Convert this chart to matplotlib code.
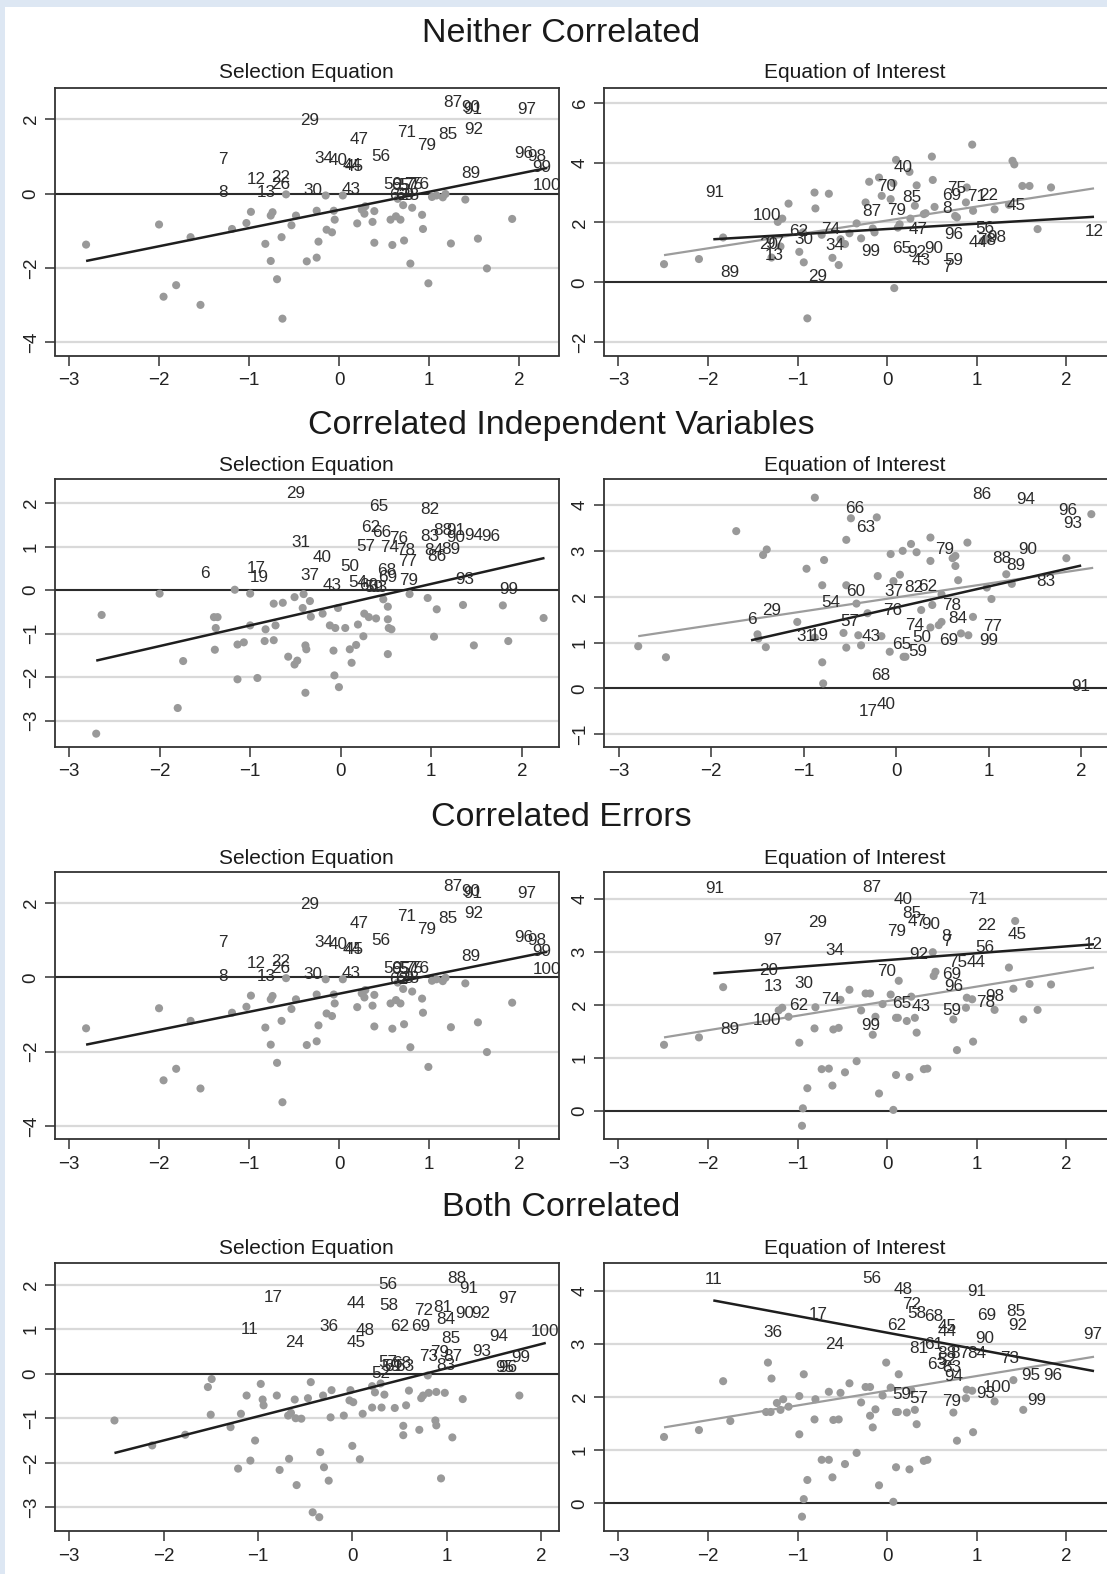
import matplotlib
matplotlib.use('Agg')
import matplotlib.pyplot as plt
from matplotlib.patches import Rectangle
import numpy as np

plt.rcParams['font.family'] = ['Liberation Sans', 'DejaVu Sans']

# ---------------- data ----------------
row_titles = ["Neither Correlated", "Correlated Independent Variables",
              "Correlated Errors", "Both Correlated"]
sub_titles = ["Selection Equation", "Equation of Interest"]
x_ticks = [-3, -2, -1, 0, 1, 2]

# Selection equation, uncorrelated X (rows 1 and 3)
selA_dots = [(-2.81,-1.37),(-2.0,-0.83),(-1.95,-2.77),(-1.81,-2.46),(-1.65,-1.17),(-1.54,-2.99),
             (-1.19,-0.95),(-1.03,-0.79),(-0.98,-0.49),(-0.82,-1.35),(-0.76,-1.81),(-0.76,-0.59),
             (-0.74,-0.5),(-0.69,-2.30),(-0.64,-1.17),(-0.63,-3.36),(-0.59,-0.02),(-0.53,-0.85),
             (-0.48,-0.59),(-0.36,-1.82),(-0.25,-1.72),(-0.25,-0.46),(-0.23,-1.29),(-0.15,-0.05),
             (-0.14,-0.97),(-0.08,-1.04),(-0.06,-0.46),(-0.05,-0.70),(0.04,-0.05),(0.2,-0.80),
             (0.25,-0.43),(0.28,-0.54),(0.29,-0.34),(0.37,-0.76),(0.39,-0.47),(0.39,-1.32),
             (0.57,-0.70),(0.59,-1.38),(0.63,-0.61),(0.65,-0.14),(0.68,-0.70),(0.71,-0.31),
             (0.72,-1.26),(0.79,-1.88),(0.81,-0.38),(0.92,-0.57),(0.93,-0.95),(0.99,-2.41),
             (1.03,-0.09),(1.08,-0.05),(1.15,-0.10),(1.18,-0.01),(1.24,-1.34),(1.40,-0.16),
             (1.54,-1.21),(1.64,-2.01),(1.92,-0.68)]
selA_labels = [("87",1.15,2.45),("90",1.35,2.31),("91",1.38,2.25),("97",1.98,2.25),("29",-0.43,1.96),
               ("71",0.64,1.64),("92",1.39,1.71),("85",1.10,1.58),("47",0.12,1.45),("79",0.87,1.29),
               ("56",0.36,1.0),("7",-1.34,0.93),("34",-0.27,0.94),("40",-0.12,0.89),("44",0.04,0.76),
               ("45",0.06,0.74),("96",1.94,1.07),("98",2.09,1.0),("99",2.14,0.69),("100",2.15,0.21),
               ("89",1.35,0.55),("12",-1.03,0.375),("22",-0.76,0.42),("26",-0.76,0.24),("8",-1.34,0.02),
               ("13",-0.92,0.02),("30",-0.40,0.08),("43",0.03,0.11),("59",0.49,0.24),("65",0.58,0.22),
               ("57",0.66,0.23),("75",0.72,0.24),("76",0.79,0.24),("62",0.55,-0.05),("69",0.62,-0.04),
               ("28",0.68,-0.04)]
selA_fit_x = [-2.81, 2.31]
selA_fit_y = [-1.81, 0.69]

# Row 1, equation of interest
intB_dots = [(-2.49,0.61),(-2.10,0.78),(-1.83,1.5),(-1.29,0.83),(-1.22,2.02),(-1.19,1.2),(-1.17,2.13),
             (-1.10,2.63),(-0.98,1.02),(-0.94,1.67),(-0.93,0.67),(-0.89,-1.2),(-0.81,3.0),(-0.80,2.47),
             (-0.73,1.59),(-0.65,2.96),(-0.61,0.82),(-0.54,0.58),(-0.52,1.44),(-0.47,1.28),(-0.42,1.64),
             (-0.34,1.97),(-0.29,1.47),(-0.24,2.67),(-0.20,3.36),(-0.16,1.8),(-0.14,1.67),(-0.09,3.5),
             (-0.06,2.89),(0.04,2.78),(0.07,3.31),(0.08,-0.19),(0.10,4.09),(0.12,1.83),(0.14,1.94),
             (0.25,3.69),(0.26,2.13),(0.31,2.56),(0.33,3.24),(0.41,2.28),(0.43,2.31),(0.50,4.2),
             (0.51,3.42),(0.53,2.52),(0.76,2.22),(0.78,2.17),(0.88,2.67),(0.89,3.17),(0.95,4.6),
             (0.96,2.39),(1.07,1.39),(1.13,1.45),(1.20,2.44),(1.36,2.59),(1.40,4.06),(1.42,3.94),
             (1.51,3.22),(1.59,3.22),(1.68,1.78),(1.83,3.17)]
intB_labels = [("91",-2.03,3.0),("100",-1.5,2.22),("89",-1.86,0.33),("20",-1.43,1.25),("97",-1.36,1.3),
               ("13",-1.36,0.89),("62",-1.09,1.69),("30",-1.03,1.44),("74",-0.74,1.76),("34",-0.69,1.22),
               ("29",-0.88,0.2),("99",-0.29,1.02),("87",-0.28,2.37),("70",-0.11,3.19),("40",0.07,3.83),
               ("79",0.0,2.41),("85",0.17,2.83),("47",0.24,1.78),("65",0.06,1.13),("92",0.23,1.0),
               ("43",0.27,0.72),("90",0.41,1.13),("7",0.61,0.5),("59",0.64,0.74),("8",0.62,2.48),
               ("69",0.61,2.89),("75",0.67,3.13),("71",0.89,2.87),("22",1.03,2.89),("45",1.34,2.56),
               ("96",0.64,1.59),("56",0.99,1.8),("44",0.91,1.33),("78",1.0,1.4),("98",1.12,1.49),
               ("12",2.21,1.69)]
intB_fit_x = [-1.94, 2.31]
intB_fit_y = [1.44, 2.19]
intB_all_x = [-2.49, 2.31]
intB_all_y = [0.91, 3.14]

# Row 2, selection equation
selC_dots = [(-2.70,-3.30),(-2.64,-0.57),(-2.0,-0.08),(-1.80,-2.71),(-1.74,-1.63),(-1.40,-0.62),
             (-1.36,-0.62),(-1.38,-0.87),(-1.39,-1.37),(-1.17,0.01),(-1.14,-1.25),(-1.14,-2.05),
             (-1.07,-1.2),(-1.0,-0.08),(-1.0,-0.81),(-0.92,-2.02),(-0.83,-0.90),(-0.84,-1.17),
             (-0.74,-0.31),(-0.74,-1.15),(-0.72,-0.81),(-0.64,-0.29),(-0.58,-1.53),(-0.51,-0.16),
             (-0.51,-1.71),(-0.48,-1.62),(-0.41,-0.09),(-0.42,-0.41),(-0.39,-1.27),(-0.38,-1.36),
             (-0.39,-2.36),(-0.34,-0.25),(-0.33,-0.61),(-0.20,-0.54),(-0.12,-0.81),(-0.06,-0.87),
             (-0.08,-1.39),(-0.07,-1.96),(-0.03,-0.41),(-0.02,-2.23),(0.05,-0.87),(0.10,-1.36),
             (0.12,-1.67),(0.17,-1.26),(0.19,-0.79),(0.25,-1.06),(0.26,-0.54),(0.31,-0.62),
             (0.39,-0.65),(0.47,-0.21),(0.52,-0.38),(0.52,-0.67),(0.53,-0.87),(0.56,-0.90),
             (0.52,-1.47),(0.76,-0.09),(0.96,-0.18),(1.06,-0.44),(1.03,-1.07),(1.35,-0.34),
             (1.47,-1.27),(1.79,-0.35),(1.85,-1.17),(2.24,-0.64)]
selC_labels = [("29",-0.60,2.22),("65",0.31,1.92),("82",0.88,1.85),("62",0.22,1.43),("66",0.35,1.32),
               ("76",0.53,1.18),("88",1.02,1.37),("91",1.17,1.37),("83",0.88,1.23),("90",1.16,1.21),
               ("94",1.36,1.26),("96",1.55,1.23),("31",-0.55,1.09),("57",0.17,1.01),("74",0.44,0.97),
               ("78",0.61,0.91),("84",0.92,0.91),("86",0.96,0.77),("89",1.11,0.93),("77",0.63,0.67),
               ("40",-0.31,0.74),("50",-0.01,0.55),("6",-1.55,0.38),("17",-1.04,0.49),("19",-1.00,0.28),
               ("37",-0.45,0.34),("43",-0.20,0.11),("54",0.08,0.18),("60",0.2,0.1),("59",0.26,0.06),
               ("63",0.3,0.06),("68",0.40,0.46),("69",0.41,0.28),("79",0.65,0.22),("93",1.26,0.25),
               ("99",1.75,0.02)]
selC_fit_x = [-2.70, 2.25]
selC_fit_y = [-1.62, 0.74]

# Row 2, equation of interest
intD_dots = [(-2.79,0.92),(-2.49,0.68),(-1.73,3.43),(-1.50,1.18),(-1.49,1.09),(-1.44,2.91),(-1.40,3.03),
             (-1.41,0.90),(-1.07,1.45),(-0.97,2.61),(-0.88,4.16),(-0.88,1.11),(-0.80,2.25),(-0.80,0.57),
             (-0.79,0.11),(-0.78,2.80),(-0.57,1.21),(-0.54,3.24),(-0.54,2.25),(-0.54,0.89),(-0.49,3.71),
             (-0.43,1.85),(-0.41,1.16),(-0.38,0.94),(-0.31,1.64),(-0.21,3.73),(-0.20,2.45),(-0.16,1.14),
             (-0.07,0.80),(-0.06,2.93),(-0.03,2.34),(0.04,2.48),(0.07,3.0),(0.08,0.69),(0.10,0.69),
             (0.16,3.15),(0.22,2.97),(0.27,1.71),(0.37,2.78),(0.37,3.29),(0.39,1.82),(0.37,1.33),
             (0.46,1.38),(0.49,1.45),(0.49,2.05),(0.61,2.84),(0.64,2.89),(0.64,2.67),(0.67,2.36),
             (0.70,1.20),(0.78,1.16),(0.77,3.18),(0.83,1.56),(0.98,2.20),(1.03,1.95),(1.19,2.49),
             (1.25,2.28),(1.84,2.84),(2.11,3.80)]
intD_labels = [("86",0.82,4.22),("94",1.30,4.12),("96",1.75,3.88),("93",1.81,3.6),("66",-0.55,3.93),
               ("63",-0.43,3.51),("79",0.42,3.03),("88",1.04,2.84),("89",1.19,2.69),("90",1.32,3.03),
               ("83",1.51,2.33),("60",-0.54,2.11),("37",-0.13,2.11),("82",0.09,2.2),("62",0.24,2.22),
               ("54",-0.81,1.87),("29",-1.45,1.71),("6",-1.61,1.51),("76",-0.14,1.71),("78",0.50,1.80),
               ("84",0.56,1.53),("57",-0.60,1.47),("74",0.10,1.37),("77",0.94,1.35),("31",-1.08,1.14),
               ("19",-0.93,1.16),("43",-0.37,1.14),("50",0.17,1.11),("69",0.46,1.04),("99",0.90,1.04),
               ("65",-0.04,0.95),("59",0.13,0.80),("68",-0.27,0.28),("91",1.89,0.05),("17",-0.40,-0.51),
               ("40",-0.21,-0.34)]
intD_fit_x = [-1.57, 2.0]
intD_fit_y = [1.05, 2.68]
intD_all_x = [-2.79, 2.13]
intD_all_y = [1.14, 2.63]

# Row 3, equation of interest
intF_dots = [(-2.49,1.25),(-2.10,1.39),(-1.83,2.34),(-1.21,1.90),(-1.17,1.95),(-1.10,1.78),(-0.98,1.29),
             (-0.94,0.05),(-0.95,-0.28),(-0.89,0.43),(-0.80,1.96),(-0.81,1.56),(-0.73,0.79),(-0.65,0.80),
             (-0.61,0.48),(-0.60,1.54),(-0.54,1.57),(-0.52,2.10),(-0.47,0.73),(-0.42,2.29),(-0.34,0.94),
             (-0.29,1.90),(-0.24,2.22),(-0.19,2.22),(-0.16,1.44),(-0.13,1.78),(-0.09,0.33),(-0.05,2.02),
             (0.04,2.20),(0.07,0.02),(0.10,0.68),(0.10,1.76),(0.12,1.76),(0.13,2.46),(0.22,1.70),
             (0.25,0.64),(0.27,2.16),(0.31,1.76),(0.33,1.48),(0.41,0.79),(0.45,0.80),(0.51,3.0),
             (0.52,2.55),(0.54,2.63),(0.74,1.73),(0.78,1.15),(0.88,1.95),(0.89,2.14),(0.95,2.11),
             (0.96,1.31),(1.20,1.91),(1.36,2.71),(1.41,2.31),(1.43,3.59),(1.52,1.73),(1.59,2.40),
             (1.68,1.91),(1.83,2.39)]
intF_labels = [("91",-2.03,4.20),("87",-0.28,4.22),("40",0.07,4.0),("71",0.90,3.99),("29",-0.88,3.56),
               ("85",0.17,3.74),("47",0.23,3.58),("90",0.38,3.52),("22",1.01,3.51),("45",1.35,3.34),
               ("79",0.0,3.39),("8",0.61,3.29),("7",0.61,3.2),("97",-1.38,3.23),("34",-0.69,3.03),
               ("56",0.98,3.09),("12",2.20,3.15),("92",0.25,2.95),("75",0.68,2.80),("44",0.89,2.80),
               ("70",-0.11,2.63),("69",0.62,2.57),("96",0.64,2.36),("20",-1.43,2.66),("13",-1.38,2.36),
               ("30",-1.03,2.41),("74",-0.74,2.10),("62",-1.09,1.99),("65",0.06,2.03),("43",0.27,1.97),
               ("78",0.99,2.05),("98",1.10,2.17),("59",0.62,1.90),("100",-1.50,1.70),("89",-1.86,1.53),
               ("99",-0.29,1.61)]
intF_fit_x = [-1.94, 2.31]
intF_fit_y = [2.60, 3.15]
intF_all_x = [-2.49, 2.31]
intF_all_y = [1.39, 2.71]

# Row 4, selection equation
selG_dots = [(-2.52,-1.05),(-2.12,-1.61),(-1.77,-1.37),(-1.53,-0.30),(-1.49,-0.12),(-1.50,-0.92),
             (-1.29,-1.20),(-1.21,-2.13),(-1.18,-0.90),(-1.12,-0.49),(-1.08,-1.95),(-1.03,-1.50),
             (-0.97,-0.23),(-0.95,-0.58),(-0.94,-0.71),(-0.80,-0.49),(-0.77,-2.16),(-0.68,-0.94),
             (-0.67,-1.91),(-0.65,-0.88),(-0.61,-0.58),(-0.59,-2.50),(-0.60,-1.0),(-0.54,-1.01),
             (-0.47,-0.55),(-0.44,-0.19),(-0.42,-3.11),(-0.35,-3.22),(-0.34,-1.76),(-0.31,-0.49),
             (-0.30,-2.10),(-0.25,-2.40),(-0.23,-0.98),(-0.22,-0.37),(-0.09,-0.94),(-0.02,-0.37),
             (-0.03,-0.60),(0.01,-0.64),(0.0,-1.62),(0.08,-1.92),(0.11,-0.90),(0.21,-0.76),
             (0.21,-0.28),(0.24,-0.42),(0.30,-0.22),(0.31,-0.76),(0.34,-0.47),(0.45,-0.77),
             (0.54,-1.17),(0.54,-1.38),(0.57,-0.71),(0.60,-0.38),(0.71,-1.26),(0.73,-0.55),
             (0.75,-0.49),(0.80,-0.04),(0.81,-0.43),(0.88,-1.05),(0.89,-0.41),(0.89,-1.16),
             (0.94,-2.35),(0.98,-0.43),(1.06,-1.43),(1.17,-0.57),(1.77,-0.49)]
selG_labels = [("88",1.01,2.13),("91",1.13,1.91),("56",0.28,2.01),("17",-0.94,1.72),("97",1.55,1.69),
               ("44",-0.06,1.57),("58",0.29,1.53),("72",0.66,1.42),("81",0.86,1.48),("84",0.89,1.21),
               ("90",1.09,1.36),("92",1.26,1.36),("11",-1.18,0.99),("36",-0.35,1.06),("62",0.40,1.06),
               ("69",0.62,1.06),("48",0.04,0.97),("45",-0.06,0.71),("24",-0.71,0.70),("85",0.94,0.80),
               ("94",1.45,0.84),("100",1.89,0.95),("73",0.71,0.39),("79",0.82,0.48),("87",0.96,0.39),
               ("83",0.89,0.18),("93",1.27,0.50),("99",1.68,0.37),("95",1.51,0.13),("96",1.55,0.13),
               ("57",0.28,0.25),("59",0.31,0.15),("61",0.34,0.15),("68",0.42,0.22),("63",0.45,0.17),
               ("52",0.20,0.0)]
selG_fit_x = [-2.52, 2.05]
selG_fit_y = [-1.78, 0.69]

# Row 4, equation of interest
intH_dots = [(-2.49,1.25),(-2.10,1.38),(-1.83,2.30),(-1.75,1.55),(-1.35,1.72),(-1.33,2.65),(-1.30,1.72),
             (-1.29,2.35),(-1.23,1.89),(-1.19,1.76),(-1.16,1.96),(-1.10,1.82),(-0.98,2.02),(-0.98,1.30),
             (-0.93,2.43),(-0.93,0.08),(-0.95,-0.25),(-0.89,0.44),(-0.81,1.58),(-0.80,1.96),(-0.73,0.82),
             (-0.65,0.82),(-0.65,2.10),(-0.61,0.49),(-0.60,1.57),(-0.54,1.58),(-0.52,2.08),(-0.47,0.74),
             (-0.42,2.26),(-0.34,0.95),(-0.29,1.90),(-0.24,2.19),(-0.19,2.19),(-0.19,1.65),(-0.16,1.43),
             (-0.13,1.77),(-0.09,0.34),(-0.05,2.03),(-0.01,2.65),(0.04,2.18),(0.07,0.03),(0.10,0.68),
             (0.10,1.72),(0.12,1.72),(0.13,2.43),(0.22,1.71),(0.25,0.64),(0.27,2.13),(0.31,1.76),
             (0.33,1.49),(0.41,0.80),(0.45,0.82),(0.74,1.71),(0.78,1.18),(0.88,1.98),(0.89,2.14),
             (0.95,2.12),(0.96,1.34),(1.20,1.92),(1.41,2.32),(1.52,1.76)]
intH_labels = [("11",-2.03,4.21),("56",-0.28,4.23),("48",0.07,4.02),("91",0.89,3.98),("72",0.17,3.75),
               ("58",0.23,3.57),("68",0.41,3.52),("17",-0.87,3.56),("69",1.01,3.54),("85",1.33,3.62),
               ("92",1.35,3.35),("62",0.0,3.35),("45",0.56,3.32),("44",0.56,3.24),("36",-1.38,3.21),
               ("90",0.98,3.10),("97",2.19,3.17),("24",-0.69,2.99),("81",0.25,2.92),("61",0.41,2.99),
               ("88",0.56,2.82),("87",0.70,2.82),("84",0.89,2.82),("63",0.45,2.62),("52",0.56,2.68),
               ("83",0.62,2.55),("73",1.26,2.73),("94",0.64,2.38),("95",1.50,2.41),("96",1.74,2.41),
               ("100",1.07,2.19),("93",0.99,2.07),("59",0.06,2.04),("57",0.25,1.97),("79",0.62,1.91),
               ("99",1.57,1.93)]
intH_fit_x = [-1.94, 2.31]
intH_fit_y = [3.82, 2.49]
intH_all_x = [-2.49, 2.31]
intH_all_y = [1.43, 2.76]

# ---------------- layout ----------------
W, H = 1107, 1574
fig = plt.figure(figsize=(W / 100, H / 100), dpi=100)
fig.patch.set_facecolor('#dde7f3')
fig.add_artist(Rectangle((5 / W, 0), 1, 1 - 7 / H, transform=fig.transFigure,
                         facecolor='white', edgecolor='none', zorder=-10))

rows_px = [(88.3, 355.5), (479.3, 746.7), (872.3, 1139.0), (1262.7, 1531.0)]
title_y = [33, 425.5, 817, 1208]
sub_y = [73, 465.5, 858, 1248]
left_px = (55, 559)
right_px = (604, 1120)

DOT = '#999999'
TXT = '#2b2b2b'
SPINE = '#333333'


def make_ax(xpx, ypx):
    return fig.add_axes([xpx[0] / W, 1 - ypx[1] / H, (xpx[1] - xpx[0]) / W, (ypx[1] - ypx[0]) / H])


def draw(ax, xlim, ylim, yticks, dots, labels, fits):
    ax.set_xlim(xlim)
    ax.set_ylim(ylim)
    ax.set_xticks(x_ticks)
    ax.set_yticks(yticks)
    for t in yticks:
        if t != 0:
            ax.axhline(t, color='#d9d9d9', lw=1.6, zorder=1)
    ax.axhline(0, color='#2b2b2b', lw=1.5, zorder=2)
    xs = [d[0] for d in dots]
    ys = [d[1] for d in dots]
    ax.scatter(xs, ys, s=34, color=DOT, edgecolors='none', zorder=3)
    for fx, fy, c, lw in fits:
        ax.plot(fx, fy, color=c, lw=lw, zorder=4, solid_capstyle='butt')
    for s, x, y in labels:
        ax.text(x, y, s, ha='left', va='center', fontsize=12.3, color=TXT, zorder=5, clip_on=False)
    for sp in ax.spines.values():
        sp.set_color(SPINE)
        sp.set_linewidth(1.3)
    ax.tick_params(axis='both', direction='out', length=7, width=1.1, color=SPINE,
                   labelsize=13.5, labelcolor='#222222')
    ax.tick_params(axis='x', pad=5)
    ax.tick_params(axis='y', pad=4, labelrotation=90)
    for lab in ax.get_yticklabels():
        lab.set_va('center')


BLACK_FIT = '#1e1e1e'
GRAY_FIT = '#9c9c9c'

panels = [
    # row 1
    (left_px, 0, (-3.155, 2.44), (-4.35, 2.83), [-4, -2, 0, 2], selA_dots, selA_labels,
     [(selA_fit_x, selA_fit_y, BLACK_FIT, 1.8)]),
    (right_px, 0, (-3.16, 2.60), (-2.44, 6.48), [-2, 0, 2, 4, 6], intB_dots, intB_labels,
     [(intB_all_x, intB_all_y, GRAY_FIT, 1.6), (intB_fit_x, intB_fit_y, BLACK_FIT, 1.8)]),
    # row 2
    (left_px, 1, (-3.155, 2.41), (-3.6, 2.55), [-3, -2, -1, 0, 1, 2], selC_dots, selC_labels,
     [(selC_fit_x, selC_fit_y, BLACK_FIT, 1.8)]),
    (right_px, 1, (-3.16, 2.42), (-1.27, 4.56), [-1, 0, 1, 2, 3, 4], intD_dots, intD_labels,
     [(intD_all_x, intD_all_y, GRAY_FIT, 1.6), (intD_fit_x, intD_fit_y, BLACK_FIT, 1.8)]),
    # row 3
    (left_px, 2, (-3.155, 2.44), (-4.35, 2.83), [-4, -2, 0, 2], selA_dots, selA_labels,
     [(selA_fit_x, selA_fit_y, BLACK_FIT, 1.8)]),
    (right_px, 2, (-3.16, 2.60), (-0.53, 4.51), [0, 1, 2, 3, 4], intF_dots, intF_labels,
     [(intF_all_x, intF_all_y, GRAY_FIT, 1.6), (intF_fit_x, intF_fit_y, BLACK_FIT, 1.8)]),
    # row 4
    (left_px, 3, (-3.15, 2.19), (-3.53, 2.49), [-3, -2, -1, 0, 1, 2], selG_dots, selG_labels,
     [(selG_fit_x, selG_fit_y, BLACK_FIT, 1.8)]),
    (right_px, 3, (-3.16, 2.60), (-0.52, 4.53), [0, 1, 2, 3, 4], intH_dots, intH_labels,
     [(intH_all_x, intH_all_y, GRAY_FIT, 1.6), (intH_fit_x, intH_fit_y, BLACK_FIT, 1.8)]),
]

for xpx, r, xlim, ylim, yt, dots, labels, fits in panels:
    ax = make_ax(xpx, rows_px[r])
    draw(ax, xlim, ylim, yt, dots, labels, fits)

for r in range(4):
    fig.text(561 / W, 1 - title_y[r] / H, row_titles[r], ha='center', va='center',
             fontsize=24.5, color='#1a1a1a')
    fig.text(306 / W, 1 - sub_y[r] / H, sub_titles[0], ha='center', va='center',
             fontsize=15, color='#1a1a1a')
    fig.text(855 / W, 1 - sub_y[r] / H, sub_titles[1], ha='center', va='center',
             fontsize=15, color='#1a1a1a')

fig.savefig('out.png', dpi=100, facecolor=fig.get_facecolor())
